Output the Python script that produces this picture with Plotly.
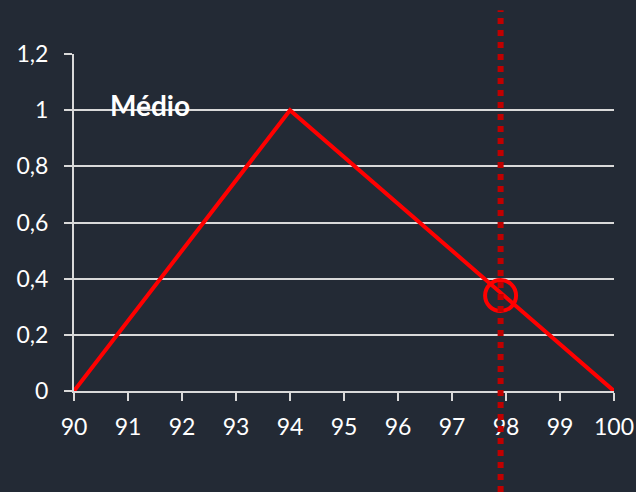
import plotly.graph_objects as go

# Triangular membership function "Médio"
x_vals = [90, 94, 100]
y_vals = [0, 1, 0]

# Current input value and its membership degree
x_input = 97.9
y_input = 0.34

x_ticks = [90, 91, 92, 93, 94, 95, 96, 97, 98, 99, 100]
y_ticks = [0, 0.2, 0.4, 0.6, 0.8, 1, 1.2]

bg = "#232a35"
grid = "#d9d9d9"
txt = "#ffffff"
font_family = "Lato, 'Open Sans', sans-serif"

fig = go.Figure()

fig.add_trace(go.Scatter(
    x=x_vals, y=y_vals, mode="lines",
    line=dict(color="#ff0000", width=4),
    showlegend=False, hoverinfo="skip",
))

fig.add_trace(go.Scatter(
    x=[x_input], y=[y_input], mode="markers",
    marker=dict(symbol="circle-open", size=31, color="#ff0000",
                line=dict(color="#ff0000", width=4)),
    showlegend=False, hoverinfo="skip", cliponaxis=False,
))

# Vertical dotted marker for the input value, spanning beyond the plot area
fig.add_shape(
    type="line", xref="x", yref="paper",
    x0=x_input, x1=x_input, y0=-0.30, y1=1.13,
    line=dict(color="#c00000", width=6, dash="6px,6px"),
    layer="above",
)

fig.add_annotation(
    x=90.63, y=1.02, xref="x", yref="y",
    text="<b>Médio</b>", showarrow=False,
    xanchor="left", yanchor="middle",
    font=dict(family=font_family, size=28, color=txt),
)

fig.update_layout(
    width=636, height=492,
    margin=dict(l=74, r=22, t=54, b=101),
    paper_bgcolor=bg, plot_bgcolor=bg,
    separators=",.",
    font=dict(family=font_family, size=23, color=txt),
)

fig.update_xaxes(
    range=[90, 100], tickvals=x_ticks, automargin=False,
    showgrid=False, zeroline=False,
    showline=True, linecolor=grid, linewidth=2,
    ticks="outside", ticklen=8, tickcolor=grid, tickwidth=2,
    ticklabelstandoff=6,
    tickfont=dict(family=font_family, size=23, color=txt),
)

fig.update_yaxes(
    range=[0, 1.2], tickvals=y_ticks, automargin=False,
    showgrid=True, gridcolor=grid, gridwidth=2,
    zeroline=False,
    showline=True, linecolor=grid, linewidth=2,
    ticks="outside", ticklen=8, tickcolor=grid, tickwidth=2,
    ticklabelstandoff=11,
    tickfont=dict(family=font_family, size=23, color=txt),
)

fig.write_html("out.html")
